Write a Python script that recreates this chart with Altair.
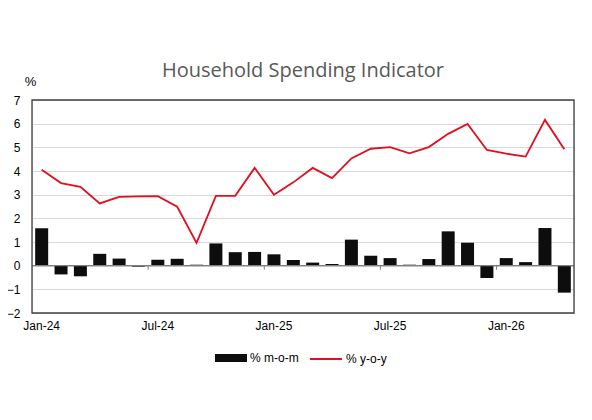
import altair as alt
import pandas as pd

months = ["Jan-24","Feb-24","Mar-24","Apr-24","May-24","Jun-24","Jul-24","Aug-24","Sep-24","Oct-24","Nov-24","Dec-24",
          "Jan-25","Feb-25","Mar-25","Apr-25","May-25","Jun-25","Jul-25","Aug-25","Sep-25","Oct-25","Nov-25","Dec-25",
          "Jan-26","Feb-26","Mar-26","Apr-26"]
mom = [1.58, -0.37, -0.45, 0.50, 0.30, -0.04, 0.25, 0.29, 0.04, 0.94, 0.57, 0.58,
       0.48, 0.24, 0.13, 0.07, 1.10, 0.42, 0.32, 0.04, 0.28, 1.45, 0.97, -0.52,
       0.32, 0.15, 1.59, -1.14]
yoy = [4.05, 3.49, 3.33, 2.63, 2.91, 2.93, 2.94, 2.49, 0.96, 2.95, 2.95, 4.13,
       3.00, 3.52, 4.13, 3.70, 4.53, 4.94, 5.01, 4.75, 5.01, 5.57, 5.99, 4.89,
       4.73, 4.61, 6.16, 4.92]
label_months = ["Jan-24", "Jul-24", "Jan-25", "Jul-25", "Jan-26"]
tick_months = ["Jul-24", "Jan-25", "Jul-25", "Jan-26"]
y_ticks = [-2, -1, 0, 1, 2, 3, 4, 5, 6, 7]

df = pd.DataFrame({"month": months, "mom": mom, "yoy": yoy})
ticks_df = pd.DataFrame({"month": tick_months, "y0": [0.0] * 4, "y1": [-0.17] * 4})

FONT = "Liberation Sans"

xscale = alt.Scale(domain=months, paddingInner=0, paddingOuter=0)
yscale = alt.Scale(domain=[-2, 7], nice=False, zero=False)

x_axis = alt.Axis(values=label_months, labelAngle=0, ticks=False, domain=False,
                  labelPadding=7, labelFont=FONT, labelFontSize=12,
                  labelColor="#000000", title=None, grid=False)
y_axis = alt.Axis(values=y_ticks, ticks=False, tickSize=0, domain=False,
                  labelPadding=12, labelFont=FONT, labelFontSize=12, labelColor="#000000",
                  gridColor="#d9d9d9", gridWidth=1,
                  title="%", titleAngle=0, titleX=-2, titleY=-12, titleAlign="center",
                  titleFont=FONT, titleFontSize=13, titleFontWeight="normal",
                  titleColor="#000000")

bars = alt.Chart(df).mark_bar(size=13, color="#0d0d0d").encode(
    x=alt.X("month:N", scale=xscale, sort=months, axis=x_axis),
    y=alt.Y("mom:Q", scale=yscale, axis=y_axis),
    fill=alt.Fill("s:N", scale=alt.Scale(domain=["% m-o-m"], range=["#0d0d0d"]),
                  legend=alt.Legend(orient="none", legendX=183, legendY=242, title=None,
                                    symbolType="M-1,-0.25H1V0.25H-1Z", symbolSize=1024,
                                    symbolStrokeWidth=0, labelFont=FONT, labelFontSize=12,
                                    labelColor="#000000", labelOffset=3)),
).transform_calculate(s="'% m-o-m'")

zero = alt.Chart(pd.DataFrame({"z": [0]})).mark_rule(color="#7f7f7f", strokeWidth=1.2).encode(
    y=alt.Y("z:Q", scale=yscale, axis=y_axis))

zticks = alt.Chart(ticks_df).mark_rule(color="#7f7f7f", strokeWidth=1).encode(
    x=alt.X("month:N", scale=xscale, sort=months, bandPosition=0, axis=x_axis),
    y=alt.Y("y0:Q", scale=yscale, axis=y_axis),
    y2="y1:Q",
)

line = alt.Chart(df).mark_line(strokeWidth=1.8).encode(
    x=alt.X("month:N", scale=xscale, sort=months, axis=x_axis),
    y=alt.Y("yoy:Q", scale=yscale, axis=y_axis),
    stroke=alt.Stroke("s:N", scale=alt.Scale(domain=["% y-o-y"], range=["#e0101e"]),
                      legend=alt.Legend(orient="none", legendX=277, legendY=242, title=None,
                                        symbolType="M-1,0H1", symbolSize=1024,
                                        symbolStrokeWidth=2, labelFont=FONT, labelFontSize=12,
                                        labelColor="#000000", labelOffset=3)),
).transform_calculate(s="'% y-o-y'")

# plot frame drawn on top of grid lines
frame = alt.Chart(pd.DataFrame({"a": [0]})).mark_rect(fill=None, stroke="#404040", strokeWidth=1.3).encode(
    x=alt.value(0), x2=alt.value(542), y=alt.value(0), y2=alt.value(213))

chart = alt.layer(bars, zero, zticks, line, frame).resolve_scale(fill="independent", stroke="independent").properties(
    width=542, height=213,
    autosize=alt.AutoSizeParams(type="none"),
    padding={"left": 24, "top": 92, "right": 10, "bottom": 99},
    title=alt.TitleParams("Household Spending Indicator", font="Open Sans", fontSize=20,
                          fontWeight="normal", color="#595959", anchor="middle", offset=22, dy=28),
).configure_view(stroke=None).configure(background="white")

chart.save("out.html", embed_options={"renderer": "svg", "actions": False})
